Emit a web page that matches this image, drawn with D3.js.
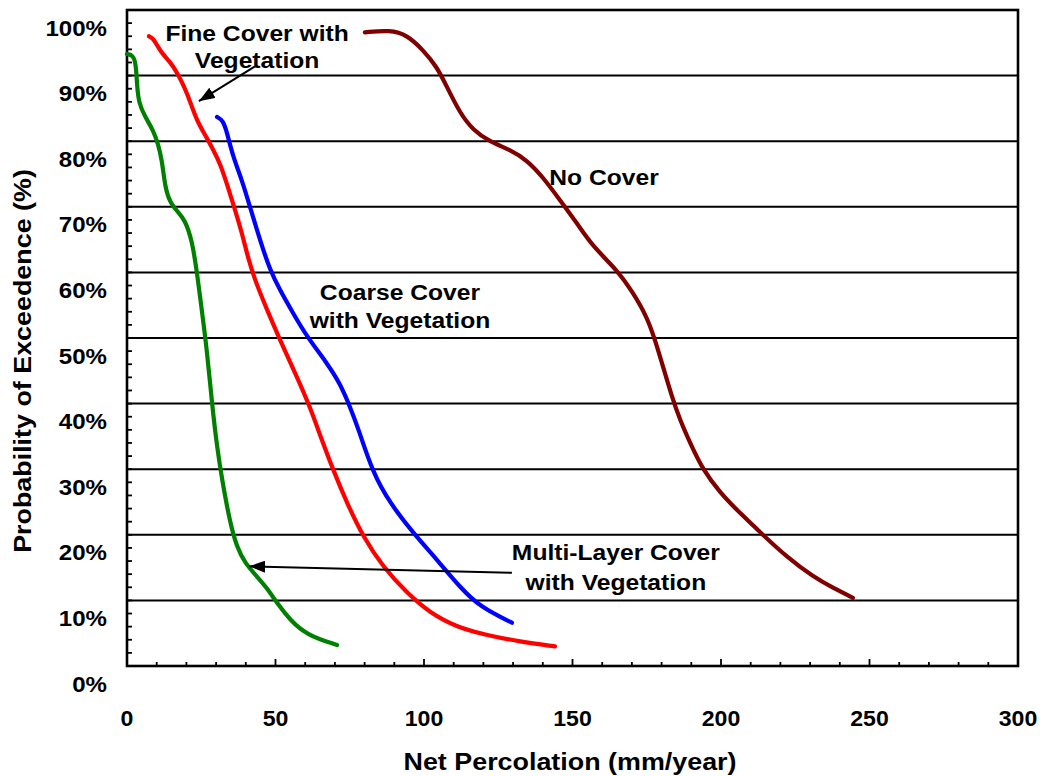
<!DOCTYPE html>
<html>
<head>
<meta charset="utf-8">
<script src="https://cdn.jsdelivr.net/npm/d3@7"></script>
<style>
  body { margin: 0; background: #fff; }
  svg { display: block; }
  text { font-family: "Liberation Sans", Arial, sans-serif; font-weight: bold; fill: #000; }
</style>
</head>
<body>
<svg id="chart" width="1043" height="776"></svg>
<script>
// net percolation (mm/year) vs probability of exceedence (%)
const multiLayerX = [0, 2.0, 3.0, 3.4, 4.0, 6.1, 8.8, 10.4, 11.8, 12.8, 14.5, 17.2, 19.5, 21.9, 23.6, 25.3, 26.9, 28.6, 30.3, 32.0, 34.7, 37.0, 39.7, 43.8, 47.1, 50.5, 54.9, 60.6, 70.7];
const multiLayerY = [93.3, 93.1, 91.9, 88.3, 85.8, 83.7, 81.7, 79.7, 77.1, 73.0, 70.6, 69.2, 68.0, 64.9, 59.9, 53.8, 48.2, 40.1, 33.4, 28.4, 21.8, 18.1, 15.7, 13.6, 11.9, 9.6, 7.0, 4.7, 3.2];

const fineX = [7.4, 8.8, 10.4, 11.8, 14.5, 16.8, 18.5, 20.2, 21.9, 23.9, 26.9, 29.0, 31.3, 34.0, 36.4, 38.7, 40.7, 43.1, 46.5, 51.5, 57.2, 61.6, 65.0, 69.4, 74.1, 79.5, 86.2, 94.3, 102.0, 111.1, 121.2, 132.3, 144.1];
const fineY = [96.0, 95.7, 94.4, 93.4, 92.1, 90.5, 89.0, 87.3, 85.2, 82.8, 80.5, 78.7, 76.7, 73.0, 69.5, 66.0, 62.3, 58.8, 55.0, 49.7, 44.1, 39.5, 35.2, 29.9, 24.8, 19.7, 15.1, 11.1, 8.1, 5.9, 4.7, 3.7, 3.0];

const coarseX = [30.3, 32.3, 33.7, 35.7, 38.7, 41.4, 44.8, 48.1, 51.5, 55.9, 60.6, 67.3, 71.7, 75.1, 77.8, 82.8, 88.6, 96.3, 104.4, 112.1, 118.9, 129.6];
const coarseY = [83.7, 83.2, 81.3, 77.6, 74.1, 70.0, 64.9, 60.4, 57.3, 53.8, 50.2, 46.2, 43.1, 39.5, 36.3, 29.4, 24.8, 20.3, 16.2, 12.0, 9.0, 6.6];

const noCoverX = [80.1, 88.6, 94.3, 99.7, 104.4, 107.7, 112.1, 116.5, 122.2, 129.0, 134.7, 140.1, 145.8, 151.5, 156.9, 165.0, 170.4, 175.1, 177.8, 180.5, 183.5, 186.2, 189.6, 193.9, 199.7, 206.4, 214.1, 222.2, 231.0, 237.7, 244.4];
const noCoverY = [96.6, 96.95, 96.2, 93.9, 91.3, 88.3, 84.3, 81.7, 79.9, 78.7, 77.1, 74.5, 71.0, 67.5, 63.9, 60.4, 56.9, 53.2, 49.7, 45.6, 41.0, 37.5, 34.0, 29.9, 26.4, 23.3, 20.0, 16.6, 13.6, 11.9, 10.4];

const seriesNames = ["Multi-Layer Cover with Vegetation", "Fine Cover with Vegetation", "Coarse Cover with Vegetation", "No Cover"];
const seriesColors = ["#008000", "#ff0000", "#0000ff", "#800000"];

const xTicks = [0, 50, 100, 150, 200, 250, 300];
const yTicks = [0, 10, 20, 30, 40, 50, 60, 70, 80, 90, 100];

// callout labels (data units: x, baseline y)
const labelLines = [
  { text: "Fine Cover with", x: 43.8, y: 95.3 },
  { text: "Vegetation", x: 43.8, y: 91.2 },
  { text: "No Cover", x: 160.6, y: 73.3 },
  { text: "Coarse Cover", x: 91.9, y: 55.8 },
  { text: "with Vegetation", x: 91.9, y: 51.5 },
  { text: "Multi-Layer Cover", x: 164.6, y: 16.2 },
  { text: "with Vegetation", x: 164.6, y: 11.6 }
];
const arrows = [
  { x1: 43.1, y1: 91.4, x2: 24.2, y2: 86.1 },
  { x1: 129.6, y1: 14.2, x2: 41.1, y2: 15.2 }
];

const svg = d3.select("#chart");
const plotLeft = 127, plotRight = 1018, plotTop = 10, plotBottom = 666;
const stretch = 1.12;

const x = d3.scaleLinear().domain([0, 300]).range([plotLeft, plotRight]);
const y = d3.scaleLinear().domain([0, 100]).range([plotBottom, plotTop]);

svg.append("rect").attr("width", 1043).attr("height", 776).attr("fill", "#fff");

// gridlines
svg.append("g").selectAll("line")
  .data(yTicks.filter(d => d > 0 && d < 100))
  .enter().append("line")
    .attr("x1", plotLeft).attr("x2", plotRight)
    .attr("y1", d => y(d)).attr("y2", d => y(d))
    .attr("stroke", "#000").attr("stroke-width", 2);

// inward ticks
svg.append("g").selectAll("line")
  .data(d3.range(0, 101, 2))
  .enter().append("line")
    .attr("x1", plotLeft).attr("x2", plotLeft + 5)
    .attr("y1", d => y(d)).attr("y2", d => y(d))
    .attr("stroke", "#000").attr("stroke-width", 1.8);

svg.append("g").selectAll("line")
  .data(d3.range(0, 301, 10))
  .enter().append("line")
    .attr("x1", d => x(d)).attr("x2", d => x(d))
    .attr("y1", plotBottom).attr("y2", d => d % 50 == 0 ? plotBottom - 7 : plotBottom - 4)
    .attr("stroke", "#000").attr("stroke-width", 1.8);

svg.append("rect")
  .attr("x", plotLeft).attr("y", plotTop)
  .attr("width", plotRight - plotLeft).attr("height", plotBottom - plotTop)
  .attr("fill", "none").attr("stroke", "#000").attr("stroke-width", 2.6);

// tick labels
svg.append("g").selectAll("text")
  .data(yTicks)
  .enter().append("text")
    .attr("transform", d => `translate(107,${y(d) + 25.6}) scale(${stretch},1)`)
    .attr("text-anchor", "end")
    .style("font-size", "21.5px")
    .text(d => d + "%");

svg.append("g").selectAll("text")
  .data(xTicks)
  .enter().append("text")
    .attr("transform", d => `translate(${x(d)},726) scale(1.05,1)`)
    .attr("text-anchor", "middle")
    .style("font-size", "22px")
    .text(d => d);

// axis titles
svg.append("text")
  .attr("transform", `translate(570,770) scale(${stretch},1)`)
  .attr("text-anchor", "middle")
  .style("font-size", "24px")
  .text("Net Percolation (mm/year)");

svg.append("text")
  .attr("transform", `translate(31,361) rotate(-90) scale(${stretch},1)`)
  .attr("text-anchor", "middle")
  .style("font-size", "24px")
  .text("Probability of Exceedence (%)");

// curves
const seriesData = [
  d3.zip(multiLayerX, multiLayerY),
  d3.zip(fineX, fineY),
  d3.zip(coarseX, coarseY),
  d3.zip(noCoverX, noCoverY)
];

const line = d3.line()
  .x(d => x(d[0]))
  .y(d => y(d[1]))
  .curve(d3.curveBasis);

svg.append("g").selectAll("path")
  .data(seriesData)
  .enter().append("path")
    .attr("d", line)
    .attr("fill", "none")
    .attr("stroke", (d, i) => seriesColors[i])
    .attr("stroke-width", 4.2)
    .attr("stroke-linecap", "round")
    .attr("stroke-linejoin", "round")
  .append("title").text((d, i) => seriesNames[i]);

// callouts
svg.append("defs").append("marker")
  .attr("id", "head")
  .attr("markerUnits", "userSpaceOnUse")
  .attr("viewBox", "0 0 16 12")
  .attr("refX", 16).attr("refY", 6)
  .attr("markerWidth", 16).attr("markerHeight", 12)
  .attr("orient", "auto")
  .append("path").attr("d", "M0,0L16,6L0,12Z").attr("fill", "#000");

svg.append("g").selectAll("line")
  .data(arrows)
  .enter().append("line")
    .attr("x1", d => x(d.x1)).attr("y1", d => y(d.y1))
    .attr("x2", d => x(d.x2)).attr("y2", d => y(d.y2))
    .attr("stroke", "#000").attr("stroke-width", 2)
    .attr("marker-end", "url(#head)");

svg.append("g").selectAll("text")
  .data(labelLines)
  .enter().append("text")
    .attr("transform", d => `translate(${x(d.x)},${y(d.y)}) scale(${stretch},1)`)
    .attr("text-anchor", "middle")
    .style("font-size", "22px")
    .text(d => d.text);
</script>
</body>
</html>
